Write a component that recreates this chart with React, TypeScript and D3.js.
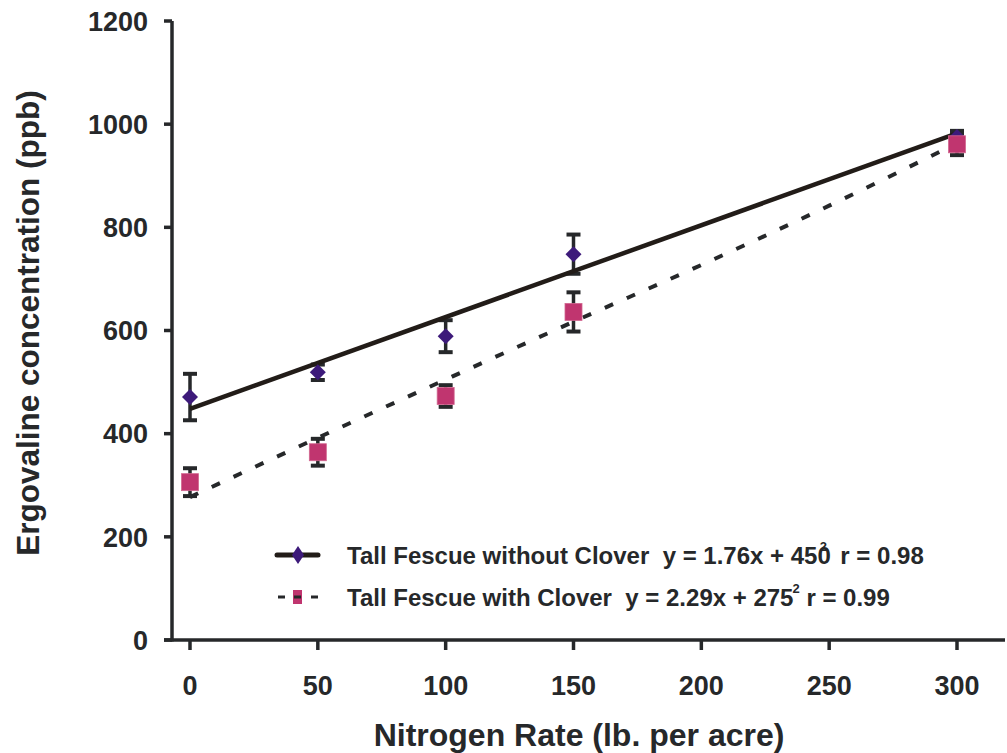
import React from "react";
import * as d3 from "d3";

const nitrogen = [0, 50, 100, 150, 300];
const withoutClover = [471, 519, 589, 748, 975];
const withoutCloverErr = [45, 15, 31, 38, 12];
const withClover = [306, 364, 473, 636, 961];
const withCloverErr = [27, 26, 21, 38, 21];
const fitX = [0, 300];
const fitWithout = [448, 982];
const curveX = [0, 50, 100, 150, 200, 250, 300];
const fitWith = [277, 392, 505, 617, 727, 842, 963];
const xTicks = [0, 50, 100, 150, 200, 250, 300];
const yTicks = [0, 200, 400, 600, 800, 1000, 1200];

const W = 1007;
const H = 753;
const FONT = "'Liberation Sans', Arial, Helvetica, sans-serif";
const AX = "#26282a";
const LINE = "#221c18";
const PURPLE = "#3d1a7a";
const PINK = "#c0356f";

export default function App() {
  const x = d3.scaleLinear().domain([0, 300]).range([190, 957]);
  const y = d3.scaleLinear().domain([0, 1200]).range([640, 21]);
  const x0 = 172;
  const yBase = 640;

  const solid = d3
    .line<number>()
    .x((_, i) => x(fitX[i]))
    .y((d) => y(d))(fitWithout) as string;
  const dashed = d3
    .line<number>()
    .x((_, i) => x(curveX[i]))
    .y((d) => y(d))
    .curve(d3.curveMonotoneX)(fitWith) as string;

  const errBar = (cx: number, v: number, e: number, key: string) => (
    <g key={key} stroke={AX} strokeWidth={3.5}>
      <line x1={cx} x2={cx} y1={y(v + e)} y2={y(v - e)} />
      <line x1={cx - 7} x2={cx + 7} y1={y(v + e)} y2={y(v + e)} strokeWidth={4} />
      <line x1={cx - 7} x2={cx + 7} y1={y(v - e)} y2={y(v - e)} strokeWidth={4} />
    </g>
  );

  const diamond = (cx: number, cy: number, sx: number, sy: number, key: string) => (
    <path
      key={key}
      d={`M${cx},${cy - sy}L${cx + sx},${cy}L${cx},${cy + sy}L${cx - sx},${cy}Z`}
      fill={PURPLE}
    />
  );

  return (
    <svg width={W} height={H} style={{ position: "absolute", left: 0, top: 0, background: "#fff" }}>
      <rect width={W} height={H} fill="#fff" />
      {/* axes */}
      <line x1={x0} x2={x0} y1={y(1200)} y2={yBase + 1.5} stroke={AX} strokeWidth={3.5} />
      <line x1={x0 - 8} x2={1005} y1={yBase} y2={yBase} stroke={AX} strokeWidth={3.5} />
      {yTicks.map((t) => (
        <g key={"yt" + t}>
          <line x1={x0 - 8} x2={x0} y1={y(t)} y2={y(t)} stroke={AX} strokeWidth={3.5} />
          <text
            x={148}
            y={y(t)}
            dy="0.36em"
            textAnchor="end"
            fontFamily={FONT}
            fontWeight="bold"
            fontSize={27}
            fill={AX}
          >
            {t}
          </text>
        </g>
      ))}
      {xTicks.map((t) => (
        <g key={"xt" + t}>
          <line x1={x(t)} x2={x(t)} y1={yBase} y2={yBase + 10} stroke={AX} strokeWidth={3.5} />
          <text
            x={x(t)}
            y={695}
            textAnchor="middle"
            fontFamily={FONT}
            fontWeight="bold"
            fontSize={27}
            fill={AX}
          >
            {t}
          </text>
        </g>
      ))}
      <text
        x={579}
        y={746}
        textAnchor="middle"
        fontFamily={FONT}
        fontWeight="bold"
        fontSize={32}
        fill={AX}
      >
        Nitrogen Rate (lb. per acre)
      </text>
      <text
        transform={`translate(39,323) rotate(-90)`}
        textAnchor="middle"
        fontFamily={FONT}
        fontWeight="bold"
        fontSize={31.5}
        fill={AX}
      >
        Ergovaline concentration (ppb)
      </text>

      {/* error bars */}
      {nitrogen.map((n, i) => errBar(x(n), withoutClover[i], withoutCloverErr[i], "ew" + i))}
      {nitrogen.map((n, i) => errBar(x(n), withClover[i], withCloverErr[i], "ec" + i))}

      {/* fits */}
      <path d={solid} fill="none" stroke={LINE} strokeWidth={4.5} />
      <path d={dashed} fill="none" stroke={AX} strokeWidth={4} strokeDasharray="9,15" />

      {/* markers */}
      {nitrogen.map((n, i) => diamond(x(n), y(withoutClover[i]), 8, 8, "d" + i))}
      {nitrogen.map((n, i) => (
        <rect
          key={"s" + i}
          x={x(n) - 8.5}
          y={y(withClover[i]) - 8.5}
          width={17}
          height={17}
          fill={PINK}
          stroke="#d1678f"
          strokeWidth={0.8}
        />
      ))}

      {/* legend */}
      <g fontFamily={FONT} fontWeight="bold" fontSize={24} fill={AX}>
        <line x1={277} x2={318} y1={555} y2={555} stroke={LINE} strokeWidth={5} strokeLinecap="round" />
        {diamond(298, 555, 6, 9, "ld")}
        <text x={347} y={564}>
          Tall Fescue without Clover{"\u00a0\u00a0"}y = 1.76x + 450
          <tspan dx={-11} dy={-13} fontSize={13}>2</tspan>
          <tspan dy={13}>{"\u00a0\u00a0"}r = 0.98</tspan>
        </text>
        <line x1={278} x2={285} y1={597} y2={597} stroke={AX} strokeWidth={3} />
        <line x1={311} x2={318} y1={597} y2={597} stroke={AX} strokeWidth={3} />
        <rect x={293} y={590} width={9} height={14} fill={PINK} />
        <line x1={294} x2={301} y1={597} y2={597} stroke={AX} strokeWidth={3} />
        <text x={347} y={606}>
          Tall Fescue with Clover{"\u00a0\u00a0"}y = 2.29x + 275
          <tspan dx={-1} dy={-13} fontSize={13}>2</tspan>
          <tspan dy={13}>{"\u00a0"}r = 0.99</tspan>
        </text>
      </g>
    </svg>
  );
}
